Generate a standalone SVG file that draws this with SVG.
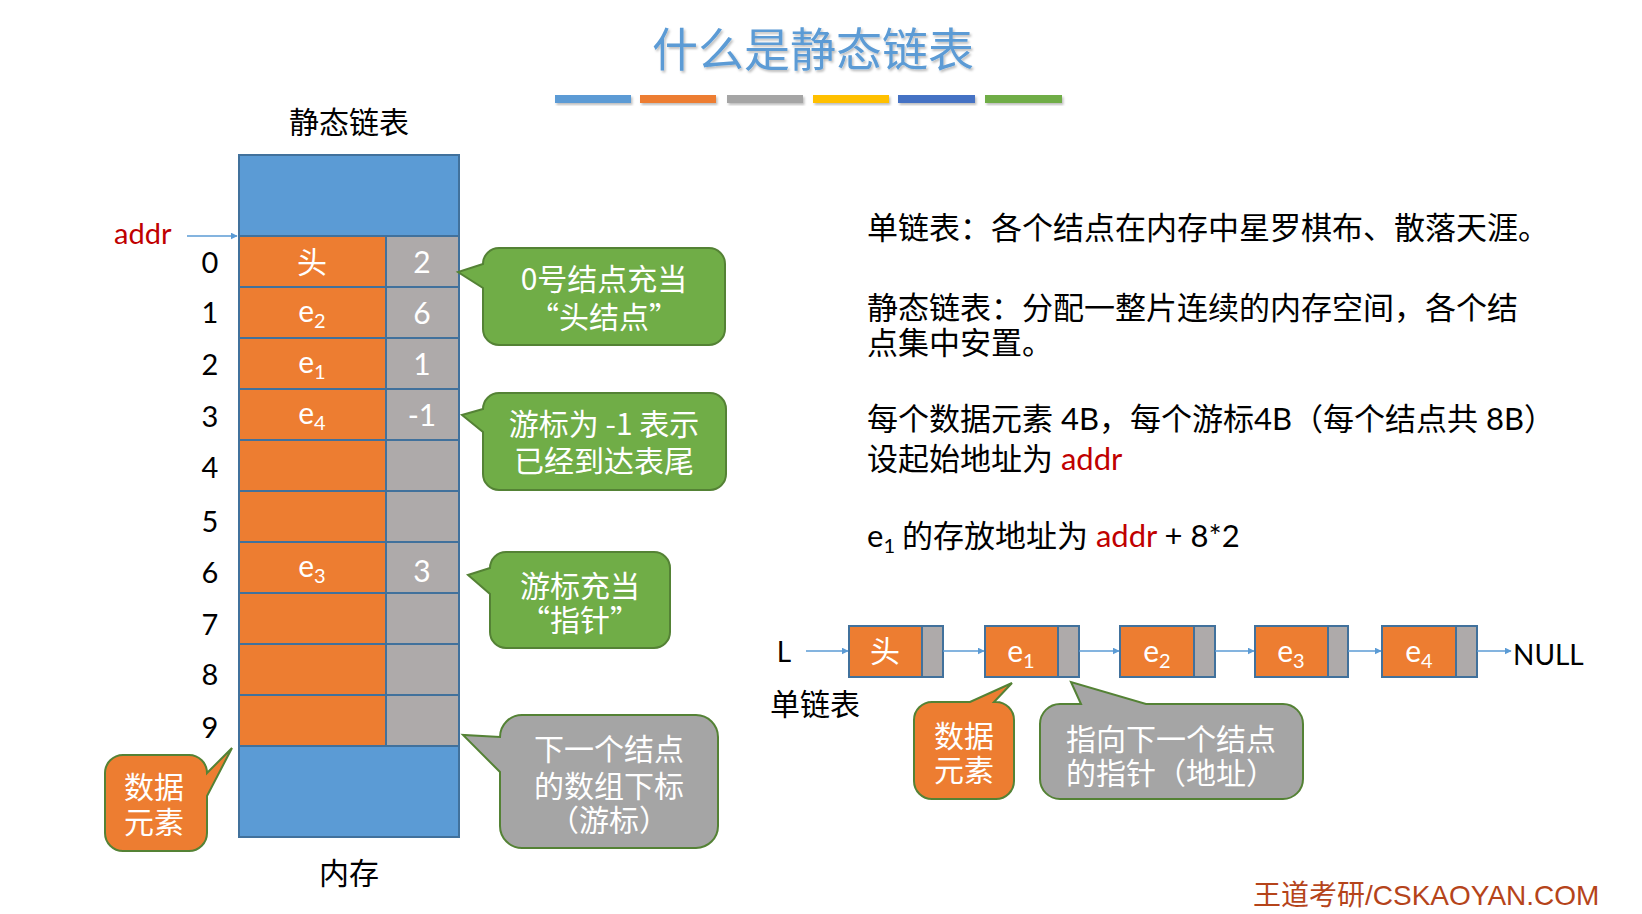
<svg xmlns="http://www.w3.org/2000/svg" width="1642" height="914" viewBox="0 0 1642 914">
<defs>
<style>
text{font-family:Lato,"Noto Sans CJK SC",sans-serif;}
.cjk{font-family:"Noto Sans CJK SC",sans-serif;}
.blk{fill:#000;}
.wt{fill:#fff;font-size:30px;text-anchor:middle;}
.idx{fill:#000;font-size:29px;text-anchor:middle;}
.rt{fill:#000;font-size:31px;}
.red{fill:#C00000;}
.cell{stroke:#41719C;stroke-width:2;}
.og{fill:#ED7D31;}
.gy{fill:#AEAAAA;}
.bl{fill:#5B9BD5;}
.callg{fill:#70AD47;stroke:#548235;stroke-width:2;}
.callgy{fill:#A5A5A5;stroke:#548235;stroke-width:2;}
.callo{fill:#ED7D31;stroke:#548235;stroke-width:2;}
.conn{stroke:#5B9BD5;stroke-width:1.5;fill:none;marker-end:url(#ah);}
</style>
<marker id="ah" viewBox="0 0 10 10" refX="9" refY="5" markerWidth="7" markerHeight="7" orient="auto" markerUnits="userSpaceOnUse">
<path d="M0,0 L10,5 L0,10 Z" fill="#5B9BD5"/>
</marker>
<filter id="sh" x="-5%" y="-20%" width="110%" height="150%">
<feDropShadow dx="1.5" dy="2" stdDeviation="1" flood-color="#000" flood-opacity="0.25"/>
</filter>
</defs>
<rect width="1642" height="914" fill="#fff"/>

<g id="title">
<text x="813" y="66" font-size="46" fill="#5B9BD5" text-anchor="middle" class="cjk" filter="url(#sh)">什么是静态链表</text>
<g filter="url(#sh)">
<rect x="555" y="95" width="76" height="8" fill="#5B9BD5"/>
<rect x="640" y="95" width="76" height="8" fill="#ED7D31"/>
<rect x="727" y="95" width="76" height="8" fill="#A5A5A5"/>
<rect x="813" y="95" width="76" height="8" fill="#FFC000"/>
<rect x="898" y="95" width="77" height="8" fill="#4472C4"/>
<rect x="985" y="95" width="77" height="8" fill="#70AD47"/>
</g>
</g>

<g id="memory">
<text x="349" y="133" font-size="30" class="cjk blk" text-anchor="middle">静态链表</text>
<rect class="cell bl" x="239" y="155" width="220" height="81"/>
<g id="rows">
<rect class="cell og" x="239" y="236" width="147" height="51"/><rect class="cell gy" x="386" y="236" width="73" height="51"/>
<rect class="cell og" x="239" y="287" width="147" height="51"/><rect class="cell gy" x="386" y="287" width="73" height="51"/>
<rect class="cell og" x="239" y="338" width="147" height="51"/><rect class="cell gy" x="386" y="338" width="73" height="51"/>
<rect class="cell og" x="239" y="389" width="147" height="51"/><rect class="cell gy" x="386" y="389" width="73" height="51"/>
<rect class="cell og" x="239" y="440" width="147" height="51"/><rect class="cell gy" x="386" y="440" width="73" height="51"/>
<rect class="cell og" x="239" y="491" width="147" height="51"/><rect class="cell gy" x="386" y="491" width="73" height="51"/>
<rect class="cell og" x="239" y="542" width="147" height="51"/><rect class="cell gy" x="386" y="542" width="73" height="51"/>
<rect class="cell og" x="239" y="593" width="147" height="51"/><rect class="cell gy" x="386" y="593" width="73" height="51"/>
<rect class="cell og" x="239" y="644" width="147" height="51"/><rect class="cell gy" x="386" y="644" width="73" height="51"/>
<rect class="cell og" x="239" y="695" width="147" height="51"/><rect class="cell gy" x="386" y="695" width="73" height="51"/>
</g>
<rect class="cell bl" x="239" y="746" width="220" height="91"/>
<text class="wt cjk" x="312" y="273">头</text>
<text class="wt" x="312" y="322">e<tspan font-size="20" dy="6">2</tspan></text>
<text class="wt" x="312" y="373">e<tspan font-size="20" dy="6">1</tspan></text>
<text class="wt" x="312" y="424">e<tspan font-size="20" dy="6">4</tspan></text>
<text class="wt" x="312" y="577">e<tspan font-size="20" dy="6">3</tspan></text>
<text class="wt" x="422" y="273">2</text>
<text class="wt" x="422" y="324">6</text>
<text class="wt" x="422" y="375">1</text>
<text class="wt" x="422" y="426">-1</text>
<text class="wt" x="422" y="582">3</text>
<text class="idx" x="210" y="273">0</text>
<text class="idx" x="210" y="323">1</text>
<text class="idx" x="210" y="375">2</text>
<text class="idx" x="210" y="427">3</text>
<text class="idx" x="210" y="478">4</text>
<text class="idx" x="210" y="532">5</text>
<text class="idx" x="210" y="583">6</text>
<text class="idx" x="210" y="635">7</text>
<text class="idx" x="210" y="685">8</text>
<text class="idx" x="210" y="738">9</text>
<text x="114" y="244" font-size="29" class="red">addr</text>
<text x="349" y="884" font-size="30" class="cjk blk" text-anchor="middle">内存</text>
</g>

<g id="callout-head">
<path class="callg" d="M499,248 H709 A16,16 0 0 1 725,264 V329 A16,16 0 0 1 709,345 H499 A16,16 0 0 1 483,329 V288 L458,272 L483,264 A16,16 0 0 1 499,248 Z"/>
<text class="wt cjk" x="604" y="290">0号结点充当<tspan x="604" dy="38">“头结点”</tspan></text>
</g>
<g id="callout-tail">
<path class="callg" d="M499,393 H710 A16,16 0 0 1 726,409 V474 A16,16 0 0 1 710,490 H499 A16,16 0 0 1 483,474 V432 L462,415 L483,409 A16,16 0 0 1 499,393 Z"/>
<text class="wt cjk" x="604" y="435">游标为 -1 表示<tspan x="604" dy="37">已经到达表尾</tspan></text>
</g>
<g id="callout-pointer">
<path class="callg" d="M506,552 H654 A16,16 0 0 1 670,568 V632 A16,16 0 0 1 654,648 H506 A16,16 0 0 1 490,632 V594 L468,575 L490,568 A16,16 0 0 1 506,552 Z"/>
<text class="wt cjk" x="580" y="597">游标充当<tspan x="580" dy="34">“指针”</tspan></text>
</g>
<g id="callout-index">
<path class="callgy" d="M522,715 H696 A22,22 0 0 1 718,737 V826 A22,22 0 0 1 696,848 H522 A22,22 0 0 1 500,826 V772 L463,735 L500,737 A22,22 0 0 1 522,715 Z"/>
<text class="wt cjk" x="609" y="760">下一个结点<tspan x="609" dy="37">的数组下标</tspan><tspan x="609" dy="34">（游标）</tspan></text>
</g>
<g id="callout-data-left">
<path class="callo" d="M123,755 H189 A18,18 0 0 1 207,773 L232,748 L207,796 V833 A18,18 0 0 1 189,851 H123 A18,18 0 0 1 105,833 V773 A18,18 0 0 1 123,755 Z"/>
<text class="wt cjk" x="154" y="798" font-size="31">数据<tspan x="154" dy="35">元素</tspan></text>
</g>

<g id="text-right">
<text class="rt cjk" x="867" y="239">单链表：各个结点在内存中星罗棋布、散落天涯。</text>
<text class="rt cjk" x="867" y="319">静态链表：分配一整片连续的内存空间，各个结<tspan x="867" dy="35">点集中安置。</tspan></text>
<text class="rt" x="867" y="430"><tspan class="cjk">每个数据元素</tspan> 4B<tspan class="cjk">，每个游标</tspan>4B<tspan class="cjk">（每个结点共</tspan> 8B<tspan class="cjk">）</tspan></text>
<text class="rt" x="867" y="470"><tspan class="cjk">设起始地址为</tspan> <tspan class="red">addr</tspan></text>
<text class="rt" x="867" y="547">e<tspan font-size="20" dy="6">1</tspan><tspan dy="-6" class="cjk"> 的存放地址为</tspan> <tspan class="red">addr</tspan> + 8*2</text>
</g>

<g id="node-L"><text x="784" y="662" font-size="28" class="blk" text-anchor="middle">L</text></g>
<g id="node-head">
<rect class="cell og" x="849" y="626" width="73" height="51"/><rect class="cell gy" x="922" y="626" width="21" height="51"/>
<text class="wt cjk" x="885" y="662">头</text>
</g>
<g id="node-e1">
<rect class="cell og" x="985" y="626" width="73" height="51"/><rect class="cell gy" x="1058" y="626" width="21" height="51"/>
<text class="wt" x="1021" y="662">e<tspan font-size="20" dy="6">1</tspan></text>
</g>
<g id="node-e2">
<rect class="cell og" x="1120" y="626" width="74" height="51"/><rect class="cell gy" x="1194" y="626" width="21" height="51"/>
<text class="wt" x="1157" y="662">e<tspan font-size="20" dy="6">2</tspan></text>
</g>
<g id="node-e3">
<rect class="cell og" x="1255" y="626" width="73" height="51"/><rect class="cell gy" x="1328" y="626" width="20" height="51"/>
<text class="wt" x="1291" y="662">e<tspan font-size="20" dy="6">3</tspan></text>
</g>
<g id="node-e4">
<rect class="cell og" x="1382" y="626" width="74" height="51"/><rect class="cell gy" x="1456" y="626" width="21" height="51"/>
<text class="wt" x="1419" y="662">e<tspan font-size="20" dy="6">4</tspan></text>
</g>
<g id="node-null"><text x="1513" y="665" font-size="28" class="blk">NULL</text></g>
<g id="label-sll"><text x="815" y="715" font-size="30" class="cjk blk" text-anchor="middle">单链表</text></g>

<g id="callout-data-bottom">
<path class="callo" d="M932,702 H970 L1012,683 L994,702 H996 A18,18 0 0 1 1014,720 V781 A18,18 0 0 1 996,799 H932 A18,18 0 0 1 914,781 V720 A18,18 0 0 1 932,702 Z"/>
<text class="wt cjk" x="964" y="747">数据<tspan x="964" dy="34">元素</tspan></text>
</g>
<g id="callout-next">
<path class="callgy" d="M1060,704 H1081 L1071,682 L1146,704 H1283 A20,20 0 0 1 1303,724 V779 A20,20 0 0 1 1283,799 H1060 A20,20 0 0 1 1040,779 V724 A20,20 0 0 1 1060,704 Z"/>
<text class="wt cjk" x="1171" y="750">指向下一个结点<tspan x="1171" dy="34">的指针（地址）</tspan></text>
</g>

<g id="connectors">
<line class="conn" x1="187" y1="236" x2="237" y2="236"/>
<line class="conn" x1="806" y1="651" x2="848" y2="651"/>
<line class="conn" x1="943" y1="651" x2="984" y2="651"/>
<line class="conn" x1="1079" y1="651" x2="1119" y2="651"/>
<line class="conn" x1="1215" y1="651" x2="1254" y2="651"/>
<line class="conn" x1="1348" y1="651" x2="1381" y2="651"/>
<line class="conn" x1="1477" y1="651" x2="1511" y2="651"/>
</g>

<g id="footer"><text x="1253" y="905" font-size="28" fill="#B5441A" style="font-family:'Liberation Sans','Noto Sans CJK SC',sans-serif">王道考研/CSKAOYAN.COM</text></g>
</svg>
